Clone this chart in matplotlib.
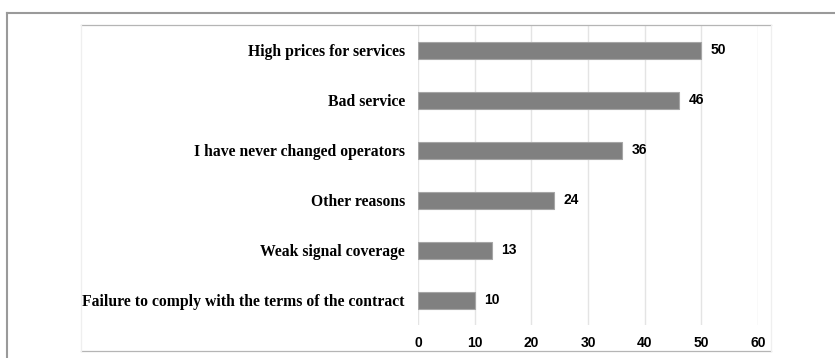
import matplotlib.pyplot as plt
from matplotlib.lines import Line2D

reasons = [
    "High prices for services",
    "Bad service",
    "I have never changed operators",
    "Other reasons",
    "Weak signal coverage",
    "Failure to comply with the terms of the contract",
]
counts = [50, 46, 36, 24, 13, 10]
xticks = [0, 10, 20, 30, 40, 50, 60]

W, H = 835, 358
fig = plt.figure(figsize=(W / 100, H / 100), dpi=100)

def px(x, y):
    # pixel position (from top-left) -> figure fraction
    return x / W, 1 - y / H

# axes: x 418..758 px, y 25..325 px
left, top = px(418, 25)
right, bottom = px(758, 325)
ax = fig.add_axes([left, bottom, right - left, top - bottom])

pos = list(range(len(reasons)))
ax.barh(pos, counts, height=0.34, color="#808080", edgecolor="#a6a6a6",
        linewidth=0.8, zorder=3)
ax.set_ylim(len(reasons) - 0.5, -0.5)
ax.set_xlim(0, 60)
ax.set_xticks(xticks)
ax.set_yticks(pos)
ax.set_yticklabels(reasons, fontfamily="Liberation Serif", fontweight="bold",
                   fontsize=11.3)
ax.set_xticklabels([str(t) for t in xticks], fontfamily="Liberation Sans",
                   fontweight="bold", fontsize=10)
ax.tick_params(axis="y", length=0, pad=9.5)
ax.tick_params(axis="x", length=0, pad=8)
ax.grid(axis="x", color="#e4e4e4", linewidth=1, zorder=0)
for s in ax.spines.values():
    s.set_visible(False)

for p, c in zip(pos, counts):
    ax.text(c + 1.7, p, str(c), va="center", ha="left",
            fontfamily="Liberation Sans", fontweight="bold", fontsize=10)

# outer frame (top and left edges)
x0, y0 = px(7, 13)
fig.add_artist(Line2D([x0, 1], [y0, y0], color="#9a9a9a", linewidth=1.5))
fig.add_artist(Line2D([x0, x0], [y0, 0], color="#9a9a9a", linewidth=1.5))

# inner chart box
bx0, by0 = px(81, 25)
bx1, by1 = px(771, 351)
fig.add_artist(Line2D([bx0, bx1], [by0, by0], color="#b5b5b5", linewidth=0.9))
fig.add_artist(Line2D([bx0, bx1], [by1, by1], color="#b5b5b5", linewidth=0.9))
fig.add_artist(Line2D([bx0, bx0], [by0, by1], color="#efefef", linewidth=0.9))
fig.add_artist(Line2D([bx1, bx1], [by0, by1], color="#efefef", linewidth=0.9))

fig.savefig("out.png", dpi=100)
